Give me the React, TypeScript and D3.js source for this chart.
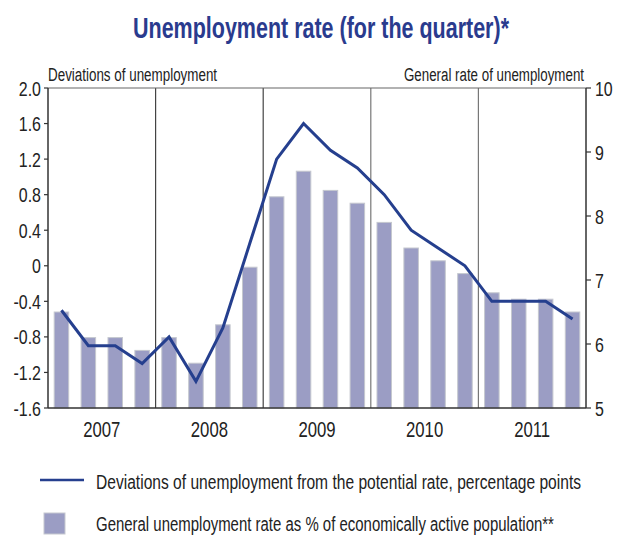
import React, { useLayoutEffect, useRef, useState } from "react";
import * as d3 from "d3";

const years = ["2007", "2008", "2009", "2010", "2011"];
const quarters = years.flatMap((y) => ["Q1", "Q2", "Q3", "Q4"].map((q) => `${y}${q}`));
const generalRate = [6.5, 6.1, 6.1, 5.9, 6.1, 5.7, 6.3, 7.2, 8.3, 8.7, 8.4, 8.2, 7.9, 7.5, 7.3, 7.1, 6.8, 6.7, 6.7, 6.5];
const deviations = [-0.5, -0.9, -0.9, -1.1, -0.8, -1.3, -0.7, 0.25, 1.2, 1.6, 1.3, 1.1, 0.8, 0.4, 0.2, 0.0, -0.4, -0.4, -0.4, -0.6];
const leftTicks = [2.0, 1.6, 1.2, 0.8, 0.4, 0, -0.4, -0.8, -1.2, -1.6];
const rightTicks = [10, 9, 8, 7, 6, 5];

const W = 617, H = 536;
const L = 48, R = 586, T = 88, B = 408;
const FONT = "'Liberation Sans', Arial, sans-serif";
const BLUE = "#253f8e";
const SX = 0.76;

type FitProps = { x: number; y: number; width: number; size: number; anchor?: "start" | "middle" | "end"; fill?: string; bold?: boolean; children: string };

function FitText({ x, y, width, size, anchor = "start", fill = "#222", bold, children }: FitProps) {
  const ref = useRef<SVGTextElement>(null);
  const [s, setS] = useState(SX);
  useLayoutEffect(() => {
    if (ref.current) {
      const len = ref.current.getComputedTextLength();
      if (len > 0) setS(width / len);
    }
  }, [children, width, size]);
  return (
    <text ref={ref} transform={`translate(${x},${y}) scale(${s},1)`} textAnchor={anchor} fontSize={size} fill={fill} fontWeight={bold ? "bold" : "normal"}>
      {children}
    </text>
  );
}

function NText({ x, y, size, anchor = "start", children }: { x: number; y: number; size: number; anchor?: "start" | "middle" | "end"; children: React.ReactNode }) {
  return (
    <text transform={`translate(${x},${y}) scale(${SX},1)`} textAnchor={anchor} fontSize={size} fill="#222">
      {children}
    </text>
  );
}

export default function App() {
  const x = d3.scaleBand<string>().domain(quarters).range([L, R]).paddingInner(0.46).paddingOuter(0.23);
  const yL = d3.scaleLinear().domain([-1.6, 2.0]).range([B, T]);
  const yR = d3.scaleLinear().domain([5, 10]).range([B, T]);
  const cx = (q: string) => (x(q) as number) + x.bandwidth() / 2;
  const line = d3.line<number>().x((_, i) => cx(quarters[i])).y((d) => yL(d));
  const yearW = (R - L) / years.length;

  return (
    <svg width={W} height={H} style={{ position: "absolute", left: 0, top: 0, background: "#fff" }} fontFamily={FONT}>
      <FitText x={321} y={38} width={376} size={30} anchor="middle" fill="#2a3b8e" bold>
        Unemployment rate (for the quarter)*
      </FitText>
      <FitText x={L} y={81} width={169} size={19}>Deviations of unemployment</FitText>
      <FitText x={584} y={81} width={180} size={19} anchor="end">General rate of unemployment</FitText>

      {/* year dividers */}
      {years.slice(1).map((y, i) => (
        <line key={y} x1={L + yearW * (i + 1)} x2={L + yearW * (i + 1)} y1={T} y2={B} stroke={i < 2 ? "#444" : "#777"} strokeWidth={1.2} />
      ))}
      <line x1={L} x2={R} y1={T} y2={T} stroke="#666" strokeWidth={1.2} />

      {/* bars */}
      {quarters.map((q, i) => (
        <rect key={q} x={x(q)} y={yR(generalRate[i])} width={x.bandwidth()} height={B - yR(generalRate[i])} fill="#9b9dc4" stroke="#c5c8cf" strokeWidth={1} />
      ))}

      {/* axes */}
      <line x1={L} x2={L} y1={T} y2={B} stroke="#333" strokeWidth={1.5} />
      <line x1={R} x2={R} y1={T} y2={B} stroke="#333" strokeWidth={1.5} />
      <line x1={L} x2={R} y1={B} y2={B} stroke="#333" strokeWidth={1.5} />
      {leftTicks.map((t) => (
        <g key={t}>
          <line x1={L - 4} x2={L} y1={yL(t)} y2={yL(t)} stroke="#333" strokeWidth={1.2} />
          <NText x={41} y={yL(t) + 7.5} size={21} anchor="end">{t === 0 ? "0" : t.toFixed(1)}</NText>
        </g>
      ))}
      {rightTicks.map((t) => (
        <g key={t}>
          <line x1={R} x2={R + 5} y1={yR(t)} y2={yR(t)} stroke="#333" strokeWidth={1.2} />
          <NText x={595} y={yR(t) + 7.5} size={21}>{t}</NText>
        </g>
      ))}
      {years.map((y, i) => (
        <NText key={y} x={L + yearW * (i + 0.5)} y={437} size={22} anchor="middle">{y}</NText>
      ))}

      {/* line */}
      <path d={line(deviations) || ""} fill="none" stroke={BLUE} strokeWidth={3} strokeLinejoin="miter" />

      {/* legend */}
      <line x1={40} x2={84} y1={480} y2={480} stroke={BLUE} strokeWidth={2.5} />
      <FitText x={96} y={489} width={485} size={21}>Deviations of unemployment from the potential rate, percentage points</FitText>
      <rect x={44} y={513} width={21} height={21} fill="#9b9dc4" stroke="#c5c8cf" strokeWidth={1} />
      <FitText x={96} y={531} width={458} size={21}>General unemployment rate as % of economically active population**</FitText>
    </svg>
  );
}
